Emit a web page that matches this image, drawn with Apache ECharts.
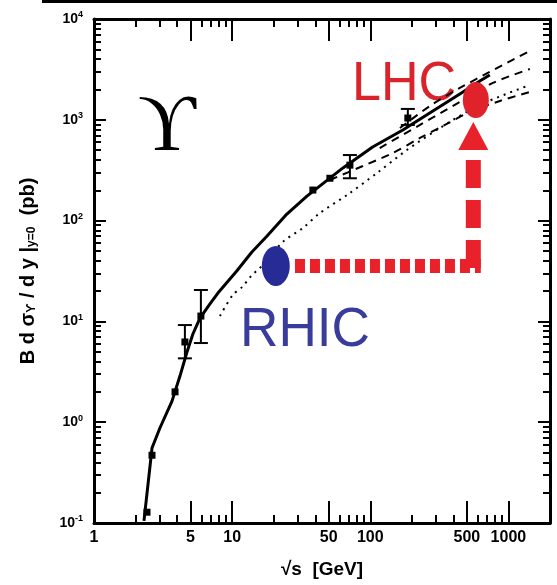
<!DOCTYPE html>
<html><head><meta charset="utf-8">
<script src="https://cdn.jsdelivr.net/npm/echarts@6/dist/echarts.min.js"></script>
<style>html,body{margin:0;padding:0;background:#fff}#c{width:557px;height:585px}</style>
</head><body><div id="c"></div>
<script>
// ---- axis ticks / labels ----
const xTickLabels = [1, 5, 10, 50, 100, 500, 1000];
const xMajorTicks = [5, 10, 50, 100, 500, 1000];
const xMinorTicks = [2, 3, 4, 6, 7, 8, 9, 20, 30, 40, 60, 70, 80, 90, 200, 300, 400, 600, 700, 800, 900];
const yMajorTicks = [0.1, 1, 10, 100, 1000, 10000];
const yTickExps = ['-1', '0', '1', '2', '3', '4'];
const yMinorTicks = [0.2, 0.3, 0.4, 0.5, 0.6, 0.7, 0.8, 0.9, 2, 3, 4, 5, 6, 7, 8, 9,
  20, 30, 40, 50, 60, 70, 80, 90, 200, 300, 400, 500, 600, 700, 800, 900,
  2000, 3000, 4000, 5000, 6000, 7000, 8000, 9000];

// ---- curves (sqrt(s) in GeV, B dsigma/dy in pb) ----
const solidX = [2.30, 2.63, 3.00, 3.67, 4.19, 4.71, 5.20, 5.85, 6.91, 7.89, 10.8, 13.9, 17.9, 24.9, 34.8, 63.4, 104, 172, 284, 445, 621, 733];
const solidY = [0.105, 0.555, 0.876, 1.62, 2.87, 4.97, 7.50, 10.8, 14.9, 19.1, 31.6, 48.8, 70.3, 116, 175, 333, 537, 792, 1223, 1803, 2427, 2786];

const upperDashX = [164, 270, 445, 733, 1429];
const upperDashY = [829, 1371, 2070, 2985, 4820];
const midDashX = [117, 229, 445, 771, 1429];
const midDashY = [525, 889, 1503, 2320, 3192];
const lowDashX = [51, 88.4, 146, 229, 347, 526, 867, 1429];
const lowDashY = [253, 348, 469, 661, 889, 1197, 1538, 1888];
const dottedX = [8.16, 10.1, 11.8, 13.9, 15.9, 23.3, 32.5, 43.2, 67.7, 112, 184, 319, 621, 1429];
const dottedY = [11.3, 18.3, 21.9, 28.8, 33.9, 61.4, 84.5, 119, 179, 297, 501, 829, 1404, 2213];

// ---- data points ----
const pointX = [2.42, 2.63, 3.86, 4.55, 5.94, 38.4, 51, 71.2, 187];
const pointY = [0.128, 0.47, 2.0, 6.25, 11.3, 201, 263, 355, 1042];
const errX = [4.55, 5.94, 71.2, 187];
const errLo = [4.3, 6.1, 263, 889];
const errHi = [9.2, 20.5, 447, 1282];

// ---- RHIC / LHC annotation ----
const rhicPoint = [20.7, 35.5];
const lhcPoint = [581, 1572];
const arrowHX = [28.5, 631];
const arrowHY = [35.5, 35.5];
const arrowVX = [557, 557];
const arrowVY = [399, 30.3];
const arrowHead = [557, 691];

const zip = (a, b) => a.map((v, i) => [v, b[i]]);
const black = '#000';
const red = '#e8212a';
const FONT = 'Liberation Sans';

function xAxisDef(pos, ticks, len, withLabel) {
  return {
    type: 'log', logBase: 10, min: 1, max: 2000, position: pos, gridIndex: 0,
    axisLine: { show: withLabel, onZero: false, lineStyle: { color: black, width: 3 } },
    axisTick: { show: true, inside: true, length: len, customValues: ticks, lineStyle: { color: black, width: 2 } },
    axisLabel: withLabel && pos === 'bottom' ? {
      show: true, customValues: xTickLabels, formatter: v => String(Math.round(v)), margin: 7,
      color: black, fontSize: 16, fontWeight: 'bold', fontFamily: FONT
    } : { show: false },
    splitLine: { show: false }, minorTick: { show: false }
  };
}
function yAxisDef(pos, ticks, len, withLabel) {
  return {
    type: 'log', logBase: 10, min: 0.1, max: 10000, position: pos, gridIndex: 0,
    axisLine: { show: withLabel, onZero: false, lineStyle: { color: black, width: 3 } },
    axisTick: { show: true, inside: true, length: len, customValues: ticks, lineStyle: { color: black, width: 2 } },
    axisLabel: withLabel && pos === 'left' ? {
      show: true, customValues: yMajorTicks, margin: 11,
      formatter: v => {
        const i = yMajorTicks.findIndex(t => Math.abs(t - v) / t < 1e-6);
        return '{b|10}{s|' + (i >= 0 ? yTickExps[i] : '') + '}';
      },
      rich: {
        b: { fontSize: 14, fontWeight: 'bold', color: black, fontFamily: FONT },
        s: { fontSize: 9, fontWeight: 'bold', color: black, fontFamily: FONT, verticalAlign: 'top', padding: [0, 0, 8, 0] }
      }
    } : { show: false },
    splitLine: { show: false }, minorTick: { show: false }
  };
}

const xAxes = [
  xAxisDef('bottom', xMajorTicks, 22, true),
  xAxisDef('bottom', xMinorTicks, 8, false),
  xAxisDef('top', xMajorTicks, 22, true),
  xAxisDef('top', xMinorTicks, 8, false)
];
xAxes[0].name = '√s  [GeV]';
xAxes[0].nameLocation = 'middle';
xAxes[0].nameGap = 37;
xAxes[0].nameTextStyle = { fontSize: 19, fontWeight: 'bold', color: black, fontFamily: FONT };

const yAxes = [
  yAxisDef('left', yMajorTicks, 12, true),
  yAxisDef('left', yMinorTicks, 7, false),
  yAxisDef('right', yMajorTicks, 12, true),
  yAxisDef('right', yMinorTicks, 7, false)
];
yAxes[0].name = '{t|B d σ}{u|ϒ}{t| / d y |}{u|y=0}{t|  (pb)}';
yAxes[0].nameLocation = 'middle';
yAxes[0].nameGap = 56;
yAxes[0].nameTextStyle = {
  rich: {
    t: { fontSize: 20, fontWeight: 'bold', color: black, fontFamily: FONT },
    u: { fontSize: 12, fontWeight: 'bold', color: black, fontFamily: FONT, verticalAlign: 'bottom' }
  }
};

const option = {
  animation: false,
  backgroundColor: '#fff',
  grid: { left: 94, right: 7, top: 19, bottom: 62, containLabel: false },
  xAxis: xAxes,
  yAxis: yAxes,
  series: [
    { type: 'line', data: zip(dottedX, dottedY), showSymbol: false, smooth: 0.3,
      lineStyle: { color: black, width: 2, type: [2, 5] }, z: 2 },
    { type: 'line', data: zip(lowDashX, lowDashY), showSymbol: false, smooth: 0.3,
      lineStyle: { color: black, width: 2, type: [8, 6] }, z: 2 },
    { type: 'line', data: zip(midDashX, midDashY), showSymbol: false, smooth: 0.3,
      lineStyle: { color: black, width: 2, type: [8, 6] }, z: 2 },
    { type: 'line', data: zip(upperDashX, upperDashY), showSymbol: false, smooth: 0.3,
      lineStyle: { color: black, width: 2, type: [8, 6] }, z: 2 },
    { type: 'line', data: zip(solidX, solidY), showSymbol: false, smooth: false,
      lineStyle: { color: black, width: 3, join: 'round' }, z: 3 },
    { type: 'scatter', data: zip(pointX, pointY), symbol: 'rect', symbolSize: 7,
      itemStyle: { color: black, opacity: 1 }, z: 4 },
    { type: 'custom', data: errX.map((x, i) => [x, errLo[i], errHi[i]]), z: 4,
      encode: { x: 0, y: [1, 2] },
      renderItem: (params, api) => {
        const lo = api.coord([api.value(0), api.value(1)]);
        const hi = api.coord([api.value(0), api.value(2)]);
        const w = 7, st = { stroke: black, lineWidth: 2 };
        return { type: 'group', children: [
          { type: 'line', shape: { x1: lo[0], y1: lo[1], x2: hi[0], y2: hi[1] }, style: st },
          { type: 'line', shape: { x1: hi[0] - w, y1: hi[1], x2: hi[0] + w, y2: hi[1] }, style: st },
          { type: 'line', shape: { x1: lo[0] - w, y1: lo[1], x2: lo[0] + w, y2: lo[1] }, style: st }
        ] };
      } },
    { type: 'line', data: zip(arrowHX, arrowHY), showSymbol: false,
      lineStyle: { color: red, width: 14, type: [10, 5], cap: 'butt' }, z: 6 },
    { type: 'line', data: zip(arrowVX, arrowVY), showSymbol: false,
      lineStyle: { color: red, width: 15, type: [28, 12], cap: 'butt' }, z: 6 },
    { type: 'scatter', data: [arrowHead], symbol: 'triangle', symbolSize: [30, 28],
      itemStyle: { color: red, opacity: 1 }, z: 7 },
    { type: 'scatter', data: [rhicPoint], symbol: 'circle', symbolSize: [28, 40],
      itemStyle: { color: '#272b95', opacity: 1 }, z: 8 },
    { type: 'scatter', data: [lhcPoint], symbol: 'circle', symbolSize: [26, 36],
      itemStyle: { color: '#e0232b', opacity: 1 }, z: 8 }
  ],
  graphic: [
    { type: 'rect', shape: { x: 42, y: 0, width: 515, height: 3 }, style: { fill: black } },
    { type: 'text', x: 167, y: 129, style: { text: 'ϒ', font: '80px "Liberation Serif", "DejaVu Serif", serif',
      fill: black, textAlign: 'center', textVerticalAlign: 'middle', verticalAlign: 'middle' } },
    { type: 'text', x: 352, y: 85, scaleX: 0.93, style: { text: 'LHC', font: '56px "Liberation Sans", Arial, sans-serif',
      fill: '#d9242b', textAlign: 'left', textVerticalAlign: 'middle', verticalAlign: 'middle' } },
    { type: 'text', x: 240, y: 331, scaleX: 0.95, style: { text: 'RHIC', font: '56px "Liberation Sans", Arial, sans-serif',
      fill: '#3a3c9c', textAlign: 'left', textVerticalAlign: 'middle', verticalAlign: 'middle' } }
  ]
};
const chart = echarts.init(document.getElementById('c'), null, { renderer: 'canvas' });
chart.setOption(option);
</script>
</body></html>
